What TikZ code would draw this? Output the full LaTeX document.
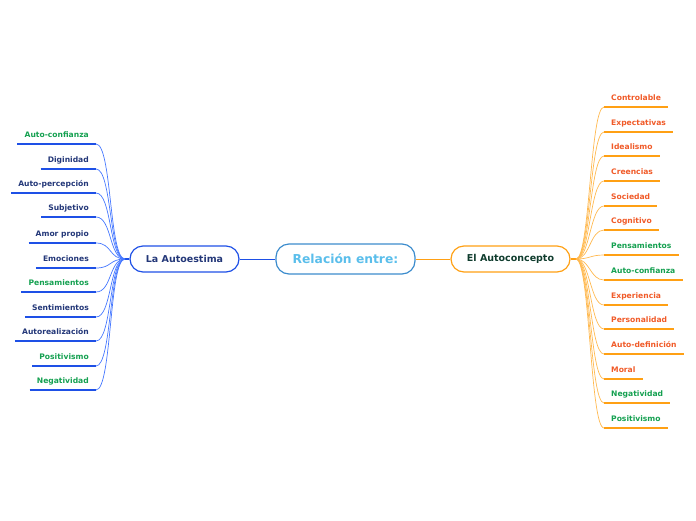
\documentclass[tikz,border=0pt]{standalone}
\usepackage{fontspec}
\setmainfont{DejaVu Sans}
\usetikzlibrary{positioning}

\definecolor{selfblue}{RGB}{30,80,230}
\definecolor{twigblue}{RGB}{70,120,255}
\definecolor{navytext}{RGB}{35,55,120}
\definecolor{leafgreen}{RGB}{20,160,80}
\definecolor{conceptorange}{RGB}{255,160,20}
\definecolor{twigorange}{RGB}{255,185,80}
\definecolor{redorange}{RGB}{240,90,40}
\definecolor{rootborder}{RGB}{60,140,205}
\definecolor{roottext}{RGB}{90,190,235}
\definecolor{darkgreen}{RGB}{15,60,45}

\tikzset{
  pill/.style={draw, rounded corners=13pt, line width=1.2pt, font=\bfseries},
  leaf/.style={font=\fontsize{7.6}{9}\selectfont\bfseries, inner xsep=7pt, inner ysep=4.6pt,
    text height=5.5pt, text depth=1.5pt},
  leafL/.style={leaf, anchor=south east, append after command={(\tikzlastnode.south west)
    edge[line width=2pt, selfblue] (\tikzlastnode.south east)}},
  leafR/.style={leaf, anchor=south west, append after command={(\tikzlastnode.south west)
    edge[line width=2pt, conceptorange] (\tikzlastnode.south east)}},
  twigL/.style={draw=twigblue, line width=0.7pt},
  twigR/.style={draw=twigorange, line width=0.7pt},
}

\begin{document}
\begin{tikzpicture}[x=1pt, y=-1pt]
    \useasboundingbox (0,0) rectangle (696,520);

    % main nodes
    \node[pill, draw=rootborder, text=roottext, minimum width=139pt, minimum height=30pt,
          font=\fontsize{12.3}{14}\selectfont\bfseries] at (345.5,259) (rel) {Relación entre:};
    \node[pill, draw=selfblue, text=navytext, minimum width=109pt, minimum height=26pt,
          font=\fontsize{9.5}{11}\selectfont\bfseries] at (184.5,259) (estima) {La Autoestima};
    \node[pill, draw=conceptorange, text=darkgreen, minimum width=119pt, minimum height=26pt,
          font=\fontsize{9.5}{11}\selectfont\bfseries] at (510.5,259) (concepto) {El Autoconcepto};

    \draw[selfblue, line width=0.8pt] (rel) -- (estima);
    \draw[conceptorange, line width=0.8pt] (rel) -- (concepto);

    \coordinate (hubL) at (125,259);
    \coordinate (hubR) at (576,259);
    \draw[selfblue, line width=1.2pt] (estima.west) -- (hubL);
    \draw[conceptorange, line width=1.2pt] (concepto.east) -- (hubR);

    % La Autoestima
    \node[leafL, text=leafgreen] at (96,144) (l1) {Auto-confianza};
    \node[leafL, text=navytext]  at (96,169) (l2) {Diginidad};
    \node[leafL, text=navytext]  at (96,193) (l3) {Auto-percepción};
    \node[leafL, text=navytext]  at (96,217) (l4) {Subjetivo};
    \node[leafL, text=navytext]  at (96,243) (l5) {Amor propio};
    \node[leafL, text=navytext]  at (96,268) (l6) {Emociones};
    \node[leafL, text=leafgreen] at (96,292) (l7) {Pensamientos};
    \node[leafL, text=navytext]  at (96,317) (l8) {Sentimientos};
    \node[leafL, text=navytext]  at (96,341) (l9) {Autorealización};
    \node[leafL, text=leafgreen] at (96,366) (l10) {Positivismo};
    \node[leafL, text=leafgreen] at (96,390) (l11) {Negatividad};

    \draw[twigL] (hubL) .. controls +(-16,0) and +(16,0) .. (l1.south east);
    \draw[twigL] (hubL) .. controls +(-16,0) and +(16,0) .. (l2.south east);
    \draw[twigL] (hubL) .. controls +(-16,0) and +(16,0) .. (l3.south east);
    \draw[twigL] (hubL) .. controls +(-16,0) and +(16,0) .. (l4.south east);
    \draw[twigL] (hubL) .. controls +(-16,0) and +(16,0) .. (l5.south east);
    \draw[twigL] (hubL) .. controls +(-16,0) and +(16,0) .. (l6.south east);
    \draw[twigL] (hubL) .. controls +(-16,0) and +(16,0) .. (l7.south east);
    \draw[twigL] (hubL) .. controls +(-16,0) and +(16,0) .. (l8.south east);
    \draw[twigL] (hubL) .. controls +(-16,0) and +(16,0) .. (l9.south east);
    \draw[twigL] (hubL) .. controls +(-16,0) and +(16,0) .. (l10.south east);
    \draw[twigL] (hubL) .. controls +(-16,0) and +(16,0) .. (l11.south east);

    % El Autoconcepto
    \node[leafR, text=redorange] at (604,107) (r1) {Controlable};
    \node[leafR, text=redorange] at (604,132) (r2) {Expectativas};
    \node[leafR, text=redorange] at (604,156) (r3) {Idealismo};
    \node[leafR, text=redorange] at (604,181) (r4) {Creencias};
    \node[leafR, text=redorange] at (604,206) (r5) {Sociedad};
    \node[leafR, text=redorange] at (604,230) (r6) {Cognitivo};
    \node[leafR, text=leafgreen] at (604,255) (r7) {Pensamientos};
    \node[leafR, text=leafgreen] at (604,280) (r8) {Auto-confianza};
    \node[leafR, text=redorange] at (604,305) (r9) {Experiencia};
    \node[leafR, text=redorange] at (604,329) (r10) {Personalidad};
    \node[leafR, text=redorange] at (604,354) (r11) {Auto-definición};
    \node[leafR, text=redorange] at (604,379) (r12) {Moral};
    \node[leafR, text=leafgreen] at (604,403) (r13) {Negatividad};
    \node[leafR, text=leafgreen] at (604,428) (r14) {Positivismo};

    \draw[twigR] (hubR) .. controls +(14,0) and +(-14,0) .. (r1.south west);
    \draw[twigR] (hubR) .. controls +(14,0) and +(-14,0) .. (r2.south west);
    \draw[twigR] (hubR) .. controls +(14,0) and +(-14,0) .. (r3.south west);
    \draw[twigR] (hubR) .. controls +(14,0) and +(-14,0) .. (r4.south west);
    \draw[twigR] (hubR) .. controls +(14,0) and +(-14,0) .. (r5.south west);
    \draw[twigR] (hubR) .. controls +(14,0) and +(-14,0) .. (r6.south west);
    \draw[twigR] (hubR) .. controls +(14,0) and +(-14,0) .. (r7.south west);
    \draw[twigR] (hubR) .. controls +(14,0) and +(-14,0) .. (r8.south west);
    \draw[twigR] (hubR) .. controls +(14,0) and +(-14,0) .. (r9.south west);
    \draw[twigR] (hubR) .. controls +(14,0) and +(-14,0) .. (r10.south west);
    \draw[twigR] (hubR) .. controls +(14,0) and +(-14,0) .. (r11.south west);
    \draw[twigR] (hubR) .. controls +(14,0) and +(-14,0) .. (r12.south west);
    \draw[twigR] (hubR) .. controls +(14,0) and +(-14,0) .. (r13.south west);
    \draw[twigR] (hubR) .. controls +(14,0) and +(-14,0) .. (r14.south west);
\end{tikzpicture}
\end{document}
